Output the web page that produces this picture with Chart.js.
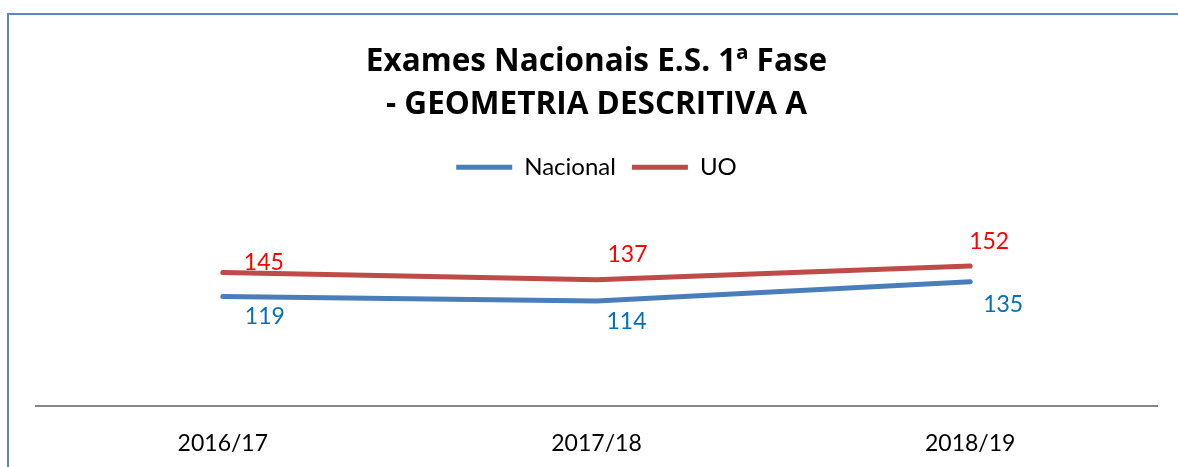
<!DOCTYPE html>
<html>
<head>
<meta charset="utf-8">
<script src="https://cdn.jsdelivr.net/npm/chart.js"></script>
<style>
  html, body { margin: 0; padding: 0; background: #fff; }
</style>
</head>
<body>
<canvas id="myChart" width="1178" height="467"></canvas>
<script>
const years = ["2016/17", "2017/18", "2018/19"];
const nacional = [119, 114, 135];
const uo = [145, 137, 152];
const titleLines = ["Exames Nacionais E.S. 1ª Fase", "- GEOMETRIA DESCRITIVA A"];

// hand-placed value labels, offset from each point as [dx, dy]
const uoNudge = [[41, -10], [31, -25], [19, -24]];
const nacionalNudge = [[42, 20], [30, 20], [33, 23]];

const FONT = "Lato, 'Open Sans', sans-serif";

const frame = {
  id: "frame",
  beforeDraw(chart) {
    const ctx = chart.ctx;
    ctx.save();
    ctx.fillStyle = "#fff";
    ctx.fillRect(0, 0, chart.width, chart.height);
    ctx.strokeStyle = "#5b87c5";
    ctx.lineWidth = 2;
    ctx.strokeRect(8, 14, chart.width + 20, chart.height + 20);
    ctx.restore();
  }
};

const valueLabels = {
  id: "valueLabels",
  afterDatasetsDraw(chart) {
    const ctx = chart.ctx;
    const specs = [
      { idx: 0, nudge: nacionalNudge, color: "#0070c0" },
      { idx: 1, nudge: uoNudge, color: "#ff0000" }
    ];
    ctx.save();
    ctx.font = "23px " + FONT;
    ctx.textAlign = "center";
    ctx.textBaseline = "middle";
    specs.forEach(s => {
      const ds = chart.data.datasets[s.idx];
      chart.getDatasetMeta(s.idx).data.forEach((pt, i) => {
        ctx.fillStyle = s.color;
        ctx.fillText(String(ds.data[i]), pt.x + s.nudge[i][0], pt.y + s.nudge[i][1]);
      });
    });
    ctx.restore();
  }
};

new Chart(document.getElementById("myChart"), {
  type: "line",
  data: {
    labels: years,
    datasets: [
      { label: "Nacional", data: nacional, borderColor: "#4a7ebb", backgroundColor: "#4a7ebb",
        borderWidth: 5, borderCapStyle: "round", borderJoinStyle: "round", pointRadius: 0, tension: 0 },
      { label: "UO", data: uo, borderColor: "#be4b48", backgroundColor: "#be4b48",
        borderWidth: 5, borderCapStyle: "round", borderJoinStyle: "round", pointRadius: 0, tension: 0 }
    ]
  },
  options: {
    responsive: false,
    animation: false,
    layout: { padding: { left: 36, right: 21, top: 0, bottom: -13 } },
    plugins: {
      title: {
        display: true,
        text: titleLines,
        color: "#000",
        font: { family: "'Open Sans', Lato, sans-serif", size: 31.5, weight: "bold", lineHeight: 1.37 },
        padding: { top: 40, bottom: 13 }
      },
      legend: {
        display: true,
        labels: {
          usePointStyle: true,
          pointStyle: "line",
          pointStyleWidth: 56,
          color: "#000",
          font: { family: FONT, size: 24 },
          padding: 16
        }
      },
      tooltip: { enabled: false }
    },
    scales: {
      x: {
        offset: true,
        grid: { display: false, drawTicks: false },
        border: { display: true, color: "#868686", width: 2 },
        ticks: { color: "#000", font: { family: FONT, size: 23 }, padding: 23 }
      },
      y: {
        display: false,
        min: 0,
        max: 235
      }
    }
  },
  plugins: [frame, valueLabels]
});
</script>
</body>
</html>
